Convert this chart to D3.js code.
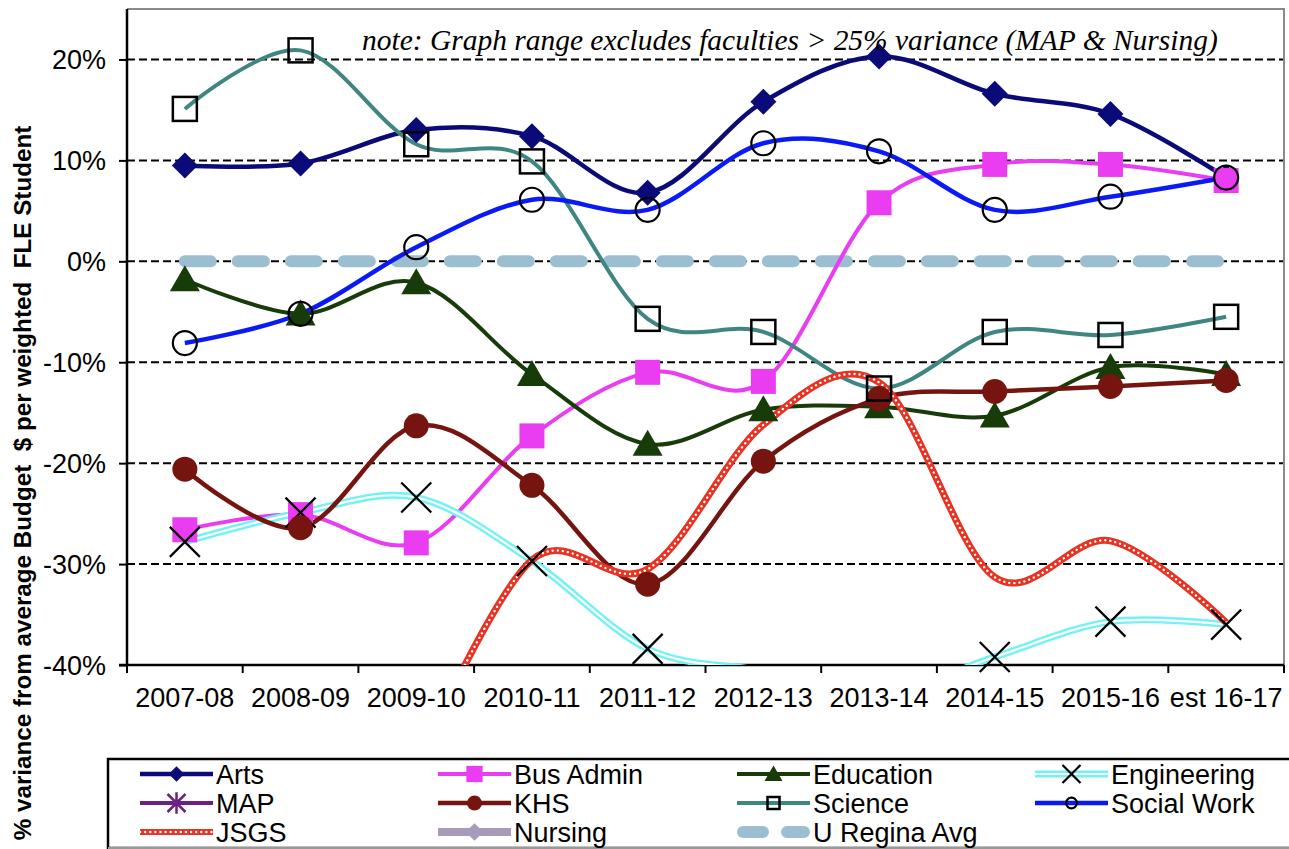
<!DOCTYPE html>
<html><head><meta charset="utf-8">
<script src="https://cdn.jsdelivr.net/npm/d3@7/dist/d3.min.js"></script>
<style>
html,body{margin:0;padding:0;background:#fff;}
</style></head>
<body>
<svg id="chart" width="1289" height="849"></svg>
<script>
// ---- data ----
const categories = ["2007-08","2008-09","2009-10","2010-11","2011-12","2012-13","2013-14","2014-15","2015-16","est 16-17"];
const yTicks = [-40,-30,-20,-10,0,10,20];
const arts        = [9.5, 9.7, 13.0, 12.4, 6.8, 15.8, 20.3, 16.6, 14.6, 8.3];
const busAdmin    = [-26.6, -25.1, -27.9, -17.3, -11.0, -11.9, 5.8, 9.6, 9.6, 8.0];
const education   = [-1.8, -5.2, -2.1, -11.2, -18.1, -14.7, -14.4, -15.3, -10.5, -11.2];
const engineering = [-27.8, -24.9, -23.4, -29.7, -38.4, -40.6, -43.0, -39.2, -35.7, -36.0];
const mapFac      = [null, null, null, null, null, null, null, null, null, null];
const khs         = [-20.6, -26.4, -16.3, -22.2, -32.0, -19.8, -13.6, -12.9, -12.4, -11.8];
const science     = [15.1, 20.9, 11.6, 9.9, -5.7, -7.0, -12.6, -7.0, -7.3, -5.5];
const socialWork  = [-8.1, -5.2, 1.4, 6.1, 5.1, 11.7, 10.9, 5.1, 6.4, 8.3];
const jsgs        = [null, null, -50.0, -29.6, -30.5, -16.2, -12.0, -31.3, -27.7, -35.8];
const nursing     = [null, null, null, null, null, null, null, null, null, null];
const uRegina     = [0, 0, 0, 0, 0, 0, 0, 0, 0, 0];
const noteText = "note: Graph range excludes faculties > 25% variance (MAP & Nursing)";
const yTitle = "% variance from average Budget  $ per weighted  FLE Student";

const series = [
  {name:"Arts", values:arts, color:"#0a0a78", width:4.5, marker:"diamond"},
  {name:"Bus Admin", values:busAdmin, color:"#ea3cf0", width:4, marker:"square"},
  {name:"Education", values:education, color:"#173c0a", width:4, marker:"triangle"},
  {name:"Engineering", values:engineering, color:"#72f2f5", width:7, marker:"x", style:"double"},
  {name:"MAP", values:mapFac, color:"#6e2080", width:4, marker:"asterisk"},
  {name:"KHS", values:khs, color:"#761410", width:4.5, marker:"circle"},
  {name:"Science", values:science, color:"#3f8582", width:4, marker:"osquare"},
  {name:"Social Work", values:socialWork, color:"#0a1af5", width:4.5, marker:"ocircle"},
  {name:"JSGS", values:jsgs, color:"#e83222", width:7, marker:null, style:"dotted"},
  {name:"Nursing", values:nursing, color:"#a89aba", width:8, marker:"diamondN"},
  {name:"U Regina Avg", values:uRegina, color:"#9bbfd0", width:12, marker:null, style:"dash"}
];

const SANS = "'Liberation Sans', Arial, Helvetica, sans-serif";
const SERIF = "'Liberation Serif', 'Times New Roman', serif";

const svg = d3.select("#chart");
const L=127, R=1284, T=9, B=665;
const x = d3.scaleBand().domain(categories).range([L,R]);
const y = d3.scaleLinear().domain([-40,25]).range([B,T]);
const cx = c => x(c) + x.bandwidth()/2;

svg.append("defs").append("clipPath").attr("id","plotclip")
  .append("rect").attr("x",L).attr("y",T).attr("width",R-L).attr("height",B-T);

// gridlines
svg.append("g").selectAll("line").data(yTicks.filter(t=>t>-40)).join("line")
  .attr("x1",L).attr("x2",R).attr("y1",d=>y(d)).attr("y2",d=>y(d))
  .attr("stroke","#000").attr("stroke-width",2).attr("stroke-dasharray","8 4");

// frame top/right
svg.append("path").attr("d",`M${L},${T}H${R}V${B}`).attr("fill","none").attr("stroke","#8a8a8a").attr("stroke-width",2);

// axes
const yAxis = d3.axisLeft(y).tickValues(yTicks).tickSize(8).tickFormat(d=>d+"%");
const gy = svg.append("g").attr("transform",`translate(${L},0)`).call(yAxis);
gy.select(".domain").attr("d",`M0,${T}V${B}`).attr("stroke","#000").attr("stroke-width",2.5);
gy.selectAll(".tick line").attr("stroke","#000").attr("stroke-width",2);
gy.selectAll(".tick text").attr("x",-21).attr("dy","0.35em").attr("fill","#000")
  .style("font-family",SANS).style("font-size","27px");

const gx = svg.append("g").attr("transform",`translate(0,${B})`);
gx.append("line").attr("x1",L-8).attr("x2",R).attr("y1",0).attr("y2",0).attr("stroke","#000").attr("stroke-width",2.5);
const bounds = categories.map(c=>x(c)).concat([R]);
gx.selectAll("line.tk").data(bounds).join("line").attr("class","tk")
  .attr("x1",d=>d).attr("x2",d=>d).attr("y1",0).attr("y2",8).attr("stroke","#000").attr("stroke-width",2);
gx.selectAll("text").data(categories).join("text")
  .attr("x",d=>cx(d)).attr("y",42).attr("text-anchor","middle")
  .style("font-family",SANS).style("font-size","27px").text(d=>d);

// line generator
const lineGen = vals => d3.line()
  .defined(d=>d.v!=null)
  .x(d=>cx(d.c)).y(d=>y(d.v))
  .curve(d3.curveCardinal.tension(0))(vals.map((v,i)=>({c:categories[i],v})));

const plot = svg.append("g").attr("clip-path","url(#plotclip)");
const markG = svg.append("g");

function drawMarker(g, type, px, py, s, color){
  switch(type){
    case "diamond": { const h=13*s; g.append("path").attr("d",`M${px},${py-h}L${px+h},${py}L${px},${py+h}L${px-h},${py}Z`).attr("fill",color); break; }
    case "diamondN": { const h=11*s; g.append("path").attr("d",`M${px},${py-h}L${px+h},${py}L${px},${py+h}L${px-h},${py}Z`).attr("fill",color); break; }
    case "square": { const h=12.5*s; g.append("rect").attr("x",px-h).attr("y",py-h).attr("width",2*h).attr("height",2*h).attr("fill",color); break; }
    case "triangle": { const w=15*s, hh=26*s; g.append("path").attr("d",`M${px},${py-hh*0.55}L${px+w},${py+hh*0.45}L${px-w},${py+hh*0.45}Z`).attr("fill",color); break; }
    case "circle": g.append("circle").attr("cx",px).attr("cy",py).attr("r",12.5*s).attr("fill",color); break;
    case "osquare": { const h=12*s; g.append("rect").attr("x",px-h).attr("y",py-h).attr("width",2*h).attr("height",2*h).attr("fill","none").attr("stroke","#000").attr("stroke-width",2.5); break; }
    case "ocircle": g.append("circle").attr("cx",px).attr("cy",py).attr("r",12*s).attr("fill","none").attr("stroke","#000").attr("stroke-width",2.2); break;
    case "x": { const h=15*s; g.append("path").attr("d",`M${px-h},${py-h}L${px+h},${py+h}M${px-h},${py+h}L${px+h},${py-h}`).attr("stroke","#000").attr("stroke-width",2.2).attr("fill","none"); break; }
    case "asterisk": { const h=10*s; g.append("path").attr("d",`M${px-h},${py-h}L${px+h},${py+h}M${px-h},${py+h}L${px+h},${py-h}M${px},${py-h*1.2}V${py+h*1.2}`).attr("stroke",color).attr("stroke-width",2.5).attr("fill","none"); break; }
  }
}

function drawStroke(g, d, s){
  if(s.style==="double"){
    g.append("path").attr("d",d).attr("fill","none").attr("stroke",s.color).attr("stroke-width",s.width);
    g.append("path").attr("d",d).attr("fill","none").attr("stroke","#fff").attr("stroke-width",2.2);
  } else if(s.style==="dotted"){
    g.append("path").attr("d",d).attr("fill","none").attr("stroke",s.color).attr("stroke-width",s.width);
    g.append("path").attr("d",d).attr("fill","none").attr("stroke","#fff").attr("stroke-width",2.4)
      .attr("stroke-dasharray","0.1 5").attr("stroke-linecap","round");
  } else if(s.style==="dash"){
    g.append("path").attr("d",d).attr("fill","none").attr("stroke",s.color).attr("stroke-width",s.width)
      .attr("stroke-dasharray","26 27").attr("stroke-linecap","round");
  } else {
    g.append("path").attr("d",d).attr("fill","none").attr("stroke",s.color).attr("stroke-width",s.width);
  }
}

const order = [series[10]].concat(series.slice(0,10));
order.forEach(s=>{
  const d = lineGen(s.values);
  if(d) drawStroke(plot, d, s);
  if(s.marker){
    s.values.forEach((v,i)=>{
      if(v==null || v< -40 || v>25) return;
      drawMarker(markG, s.marker, cx(categories[i]), y(v), 1, s.color);
    });
  }
});

// note
const note = svg.append("text").attr("x",362).attr("y",50)
  .style("font-family",SERIF).style("font-style","italic").style("font-size","26px").text(noteText);
{ const w = note.node().getComputedTextLength(); note.style("font-size", (26*856/w)+"px"); }

// y title
const yt = svg.append("text").attr("transform","translate(31,483) rotate(-90)").attr("text-anchor","middle")
  .style("font-family",SANS).style("font-weight","bold").style("font-size","22px").style("white-space","pre").text(yTitle);
{ const w = yt.node().getComputedTextLength(); yt.style("font-size", (22*715/w)+"px"); }

// legend
const lg = svg.append("g");
lg.append("rect").attr("x",108).attr("y",759).attr("width",1200).attr("height",89).attr("fill","#fff").attr("stroke","#000").attr("stroke-width",2.5);
lg.append("line").attr("x1",108).attr("x2",1289).attr("y1",848).attr("y2",848).attr("stroke","#999").attr("stroke-width",2);
const colX = [140, 438, 737, 1035];
const rowY = [774, 803, 832];
series.forEach((s,i)=>{
  const col = i%4, row = Math.floor(i/4);
  const x0 = colX[col], yy = rowY[row], x1 = x0+73, mx=(x0+x1)/2;
  const g = lg.append("g");
  if(s.style==="dash"){
    g.append("path").attr("d",`M${x0+6},${yy}H${x1-6}`).attr("fill","none").attr("stroke",s.color).attr("stroke-width",12)
      .attr("stroke-linecap","round").attr("stroke-dasharray","20 24");
  } else {
    const ss = Object.assign({}, s);
    if(s.style==="dotted") ss.width=6;
    drawStroke(g, `M${x0},${yy}H${x1}`, ss);
  }
  if(s.marker){
    const sc = {diamond:0.6, diamondN:0.8, square:0.65, triangle:0.6, x:0.6, asterisk:0.9, circle:0.6, osquare:0.5, ocircle:0.45}[s.marker];
    drawMarker(g, s.marker, mx, yy, sc, s.color);
  }
  g.append("text").attr("x",x1+3).attr("y",yy+9.5)
    .style("font-family",SANS).style("font-size","27px").text(s.name);
});
</script>
</body></html>
